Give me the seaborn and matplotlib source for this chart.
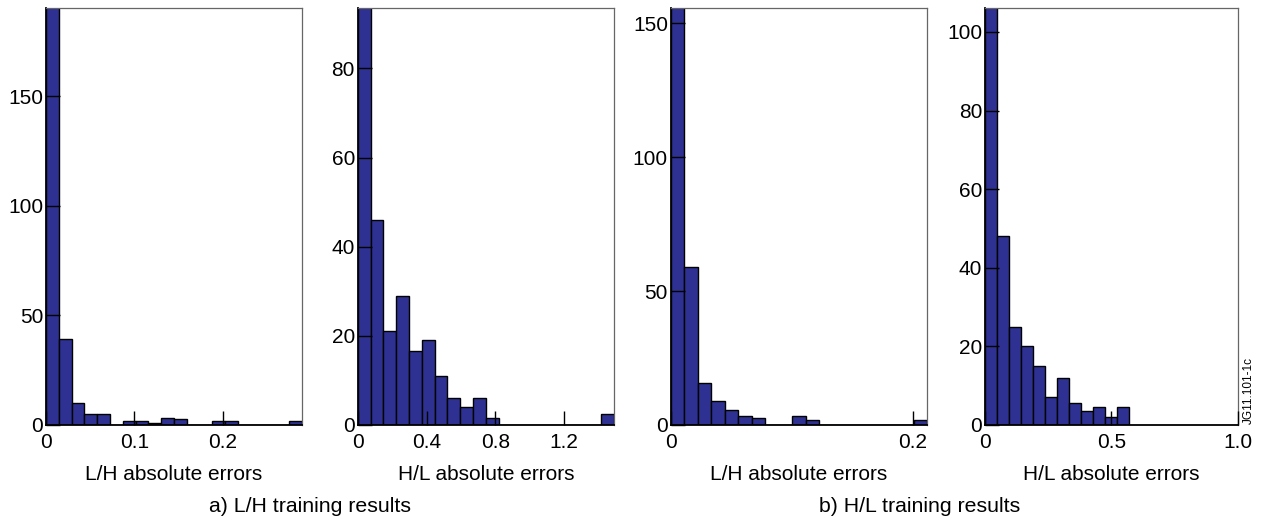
import numpy as np
import matplotlib
matplotlib.use("Agg")
import matplotlib.pyplot as plt
import seaborn as sns

# === datos: conteos por bin ===
# a) L/H training results
a_lh_counts = [200, 39, 10, 5, 5, 0, 2, 2, 1, 3, 2.7, 0, 0, 2, 2, 0, 0, 0, 0, 2]
a_lh_range = (0, 0.29)
a_hl_counts = [100, 46, 21, 29, 16.5, 19, 11, 6, 4, 6, 1.5, 0, 0, 0, 0, 0, 0, 0, 0, 2.5]
a_hl_range = (0, 1.49)
# b) H/L training results
b_lh_counts = [170, 59, 15.5, 9, 5.5, 3.5, 2.5, 0, 0, 3.5, 2, 0, 0, 0, 0, 0, 0, 0, 2]
b_lh_range = (0, 0.212)
b_hl_counts = [115, 48, 25, 20, 15, 7, 12, 5.5, 3.5, 4.5, 2, 4.5]
b_hl_range = (0, 0.57)

xlabels = ["L/H absolute errors", "H/L absolute errors",
           "L/H absolute errors", "H/L absolute errors"]
xlims = [(0, 0.29), (0, 1.49), (0, 0.212), (0, 1.0)]
ylims = [(0, 190), (0, 93.5), (0, 155.5), (0, 106)]
xticks = [[0, 0.1, 0.2], [0, 0.4, 0.8, 1.2], [0, 0.2], [0, 0.5, 1.0]]
xticklabels = [["0", "0.1", "0.2"], ["0", "0.4", "0.8", "1.2"],
               ["0", "0.2"], ["0", "0.5", "1.0"]]
yticks = [[0, 50, 100, 150], [0, 20, 40, 60, 80],
          [0, 50, 100, 150], [0, 20, 40, 60, 80, 100]]
subtitles = ["a) L/H training results", "b) H/L training results"]

BAR_COLOR = "#2e3192"

sns.set_style("white")
plt.rcParams["font.family"] = ["Liberation Sans", "DejaVu Sans"]
plt.rcParams.update({"text.color": "black", "axes.labelcolor": "black",
                     "xtick.color": "black", "ytick.color": "black"})

fig = plt.figure(figsize=(12.61, 5.25), dpi=100)
W, H = 1261, 525
lefts_px = [46, 357.7, 670.7, 985]
rights_px = [302, 614, 927.3, 1237.7]
top_px, bottom_px = 8.3, 425

panels = [(a_lh_counts, a_lh_range), (a_hl_counts, a_hl_range),
          (b_lh_counts, b_lh_range), (b_hl_counts, b_hl_range)]

for i, (counts, rng) in enumerate(panels):
    ax = fig.add_axes([lefts_px[i] / W, 1 - bottom_px / H,
                       (rights_px[i] - lefts_px[i]) / W, (bottom_px - top_px) / H])
    n = len(counts)
    edges = np.linspace(rng[0], rng[1], n + 1)
    centers = (edges[:-1] + edges[1:]) / 2
    sns.histplot(x=centers, weights=counts, bins=n, binrange=rng,
                 color=BAR_COLOR, alpha=1, edgecolor="black", linewidth=1, ax=ax)
    ax.set_xlim(*xlims[i])
    ax.set_ylim(*ylims[i])
    ax.set_xticks(xticks[i])
    ax.set_xticklabels(xticklabels[i])
    ax.set_yticks(yticks[i])
    ax.set_ylabel("")
    ax.set_xlabel(xlabels[i], fontsize=15, labelpad=9)
    ax.tick_params(axis="both", direction="in", length=10, width=1,
                   labelsize=15, color="black", bottom=True, left=True,
                   top=False, right=False)
    ax.tick_params(axis="x", pad=6)
    ax.tick_params(axis="y", pad=2)
    for s in ["left", "bottom"]:
        ax.spines[s].set_color("black")
        ax.spines[s].set_linewidth(1.3)
    for s in ["top", "right"]:
        ax.spines[s].set_color("#666666")
        ax.spines[s].set_linewidth(0.9)
    ax.set_axisbelow(False)

fig.text(310 / W, 1 - 507 / H, subtitles[0], ha="center", va="center", fontsize=15.3)
fig.text(920 / W, 1 - 507 / H, subtitles[1], ha="center", va="center", fontsize=15.3)
fig.text(1249 / W, 1 - 391 / H, "JG11.101-1c", rotation=90, ha="center",
         va="center", fontsize=8.5)

fig.savefig("out.png", dpi=100)
